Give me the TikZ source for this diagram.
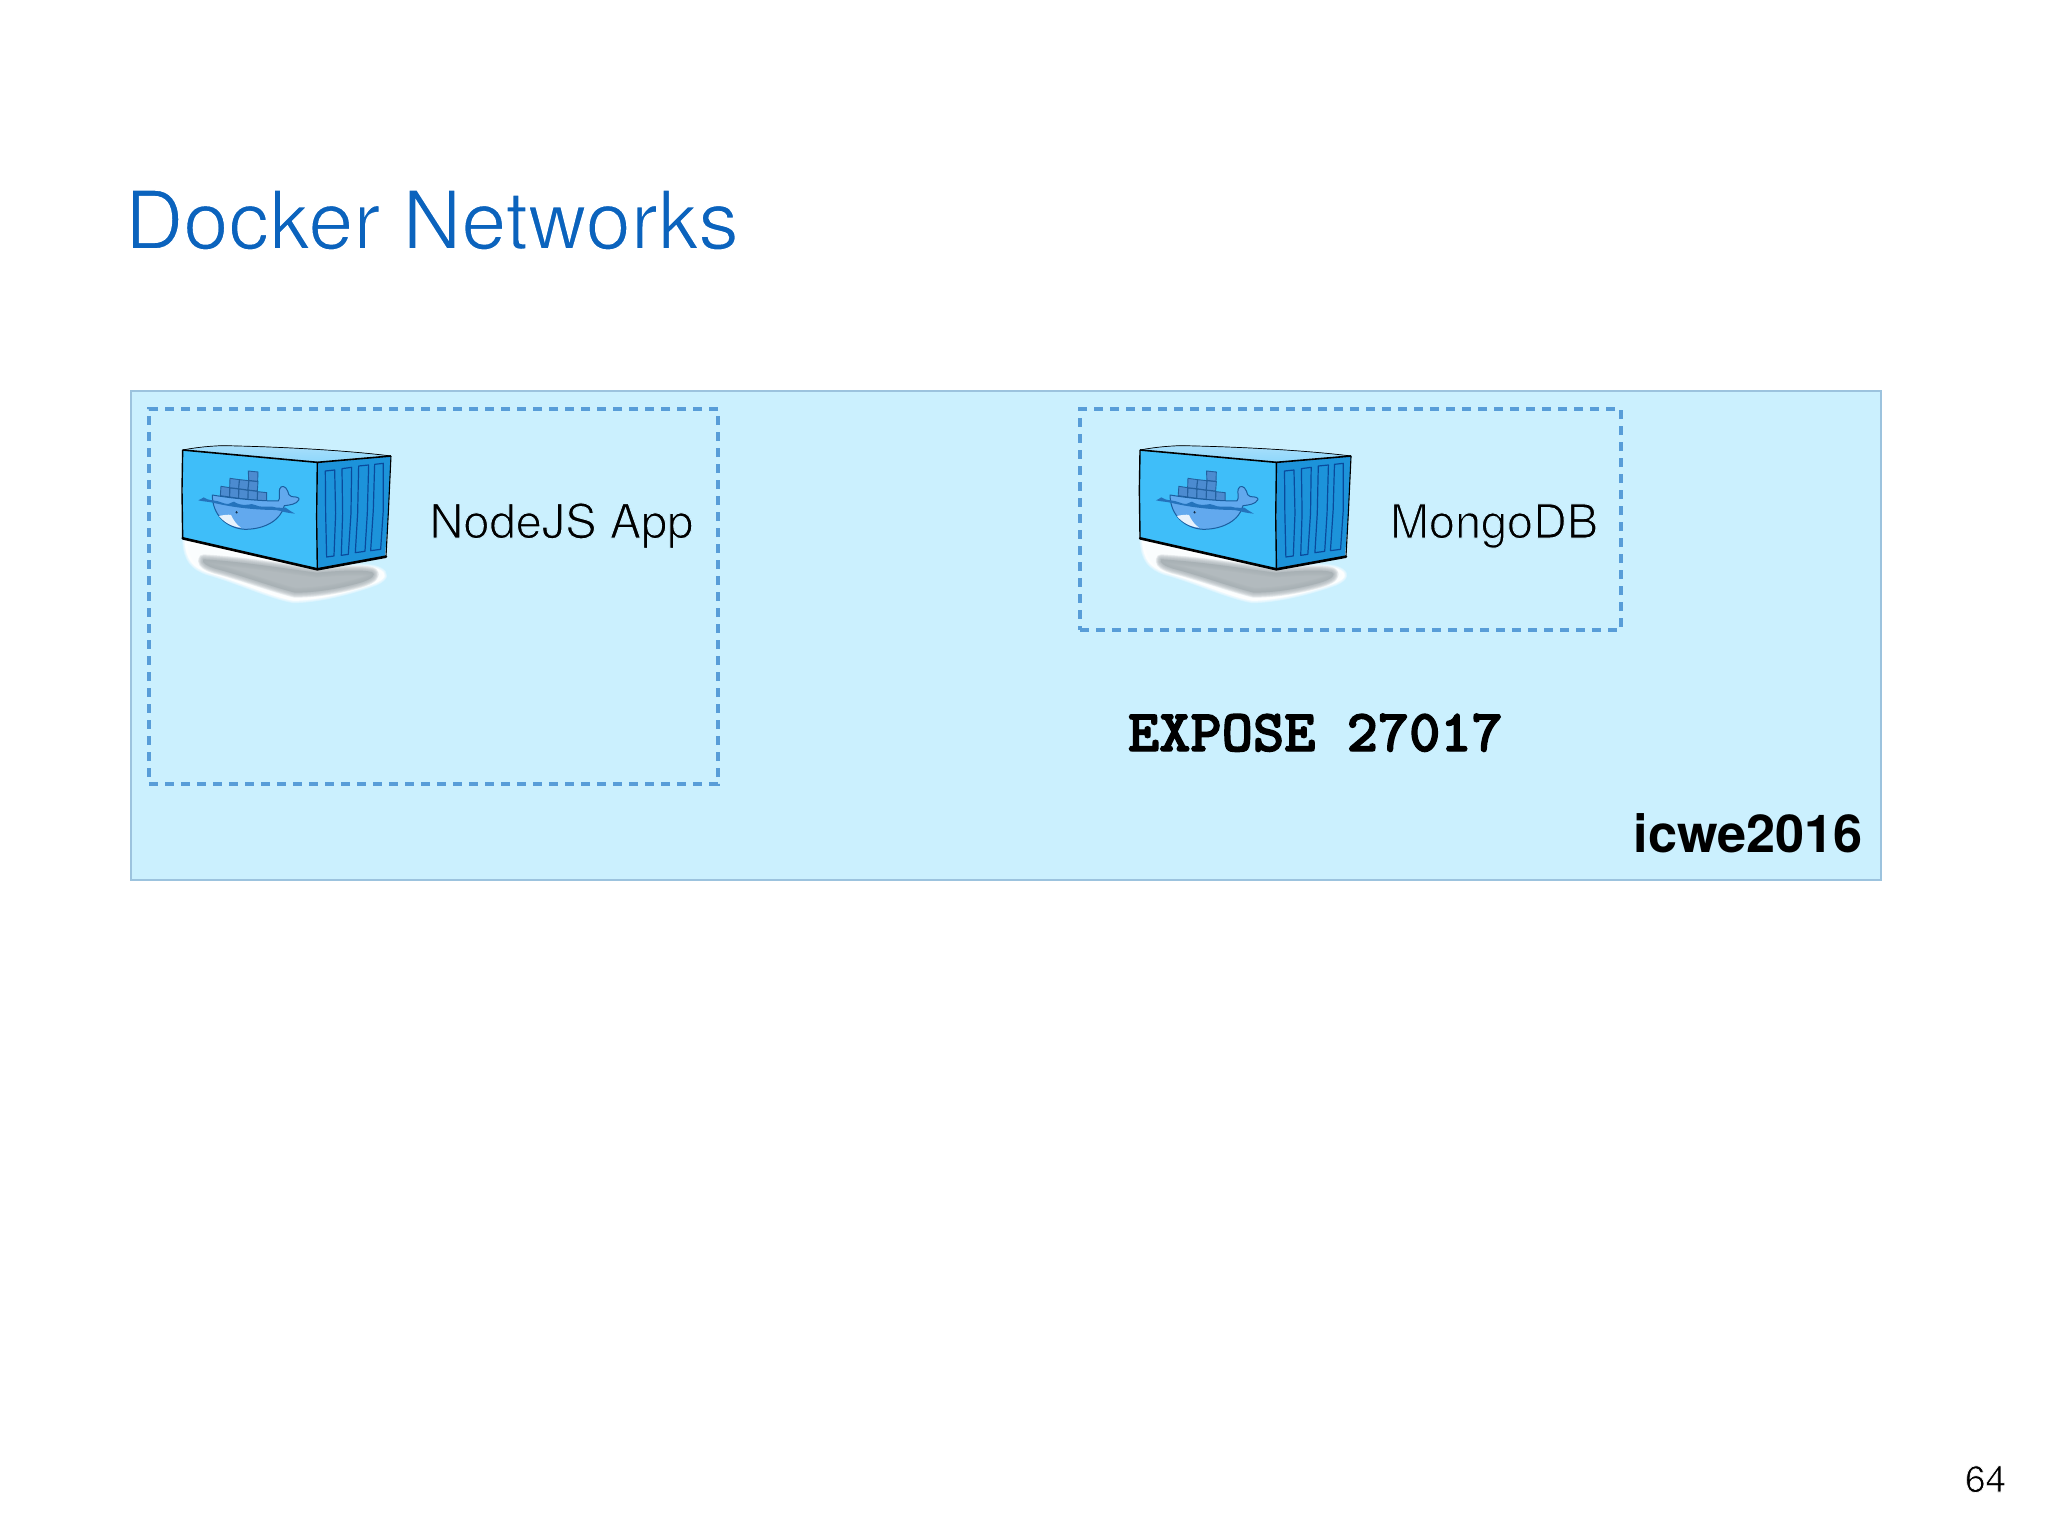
\documentclass[tikz,border=0pt]{standalone}
\usepackage{fontspec}
\setmainfont{TeX Gyre Heros}
\definecolor{titleblue}{HTML}{0B63BD}
\definecolor{panelfill}{HTML}{CBF0FE}
\definecolor{panelline}{HTML}{9CC3DE}
\definecolor{dashblue}{HTML}{589DD8}
\definecolor{frontblue}{HTML}{3FBEF9}
\definecolor{sideblue}{HTML}{1C93DA}
\definecolor{topblue}{HTML}{A8DFFB}
\definecolor{doorline}{HTML}{0A4A9C}
\definecolor{whaleblue}{HTML}{62A9EE}
\definecolor{whaleline}{HTML}{1B5E9F}
\definecolor{waterblue}{HTML}{2473BC}
\definecolor{boxblue}{HTML}{4C8BD0}
\definecolor{boxline}{HTML}{23609E}
\definecolor{shadowgrey}{HTML}{A6AFB3}
% text weight: the glyph edge is stroked in the ground colour (lighter) or in black (heavier)
\newcommand{\weighted}[3]{\special{pdf:code q #2 RG #3 w 2 Tr}#1\special{pdf:code Q}}
\newcommand{\onwhite}[1]{\weighted{#1}{1 1 1}{1.5}}
\newcommand{\onwhitesmall}[1]{\weighted{#1}{1 1 1}{0.7}}
\newcommand{\onpanel}[1]{\weighted{#1}{0.796 0.941 0.996}{1.0}}
\newcommand{\heavier}[1]{\weighted{#1}{0 0 0}{1.3}}
\def\shadowcore{(100,388) .. controls (220,395) and (340,415) .. (440,428) .. controls (510,422) and (575,418) .. (605,426)
        .. controls (622,434) and (605,448) .. (572,458) .. controls (510,476) and (440,488) .. (375,488)
        .. controls (310,472) and (220,438) .. (135,416) .. controls (115,410) and (92,398) .. (100,388) -- cycle}
\def\halo{(44,332) .. controls (200,362) and (350,400) .. (440,418)
      .. controls (520,410) and (590,402) .. (625,417) .. controls (654,430) and (648,445) .. (618,459)
      .. controls (540,488) and (440,512) .. (370,512) .. controls (300,500) and (200,452) .. (112,428)
      .. controls (68,412) and (48,390) .. (44,332) -- cycle}
\tikzset{
  label/.style={inner sep=0pt,outer sep=0pt,anchor=base west},
  panel/.style={draw=panelline,line width=1.8pt,fill=panelfill,inner sep=0pt,outer sep=0pt,anchor=north west},
  box/.style={draw=dashblue,line width=4.5pt,dash pattern=on 9pt off 7pt,inner sep=0pt,outer sep=0pt,anchor=north west},
  cargo/.style={fill=boxblue,draw=boxline,line width=.9pt},
  door/.style={fill=sideblue,draw=doorline,line width=1.2pt,line join=round},
  container/.pic={
    % shadow: white halo with a soft edge, then grey core with a soft edge
    \foreach \w in {5,3.5,2,.8}{
      \draw[white,line width=\w pt,opacity=.3,line join=round] \halo;
    }
    \fill[white,opacity=.92] \halo;
    \foreach \w in {10,8.5,7,5.5,4,2.5,1}{
      \draw[shadowgrey,line width=\w pt,opacity=.2,line join=round] \shadowcore;
    }
    \fill[shadowgrey,opacity=.85] \shadowcore;
    % top face
    \fill[top color=topblue,bottom color=topblue!75!frontblue] (38,60) .. controls (80,52) and (120,48) .. (160,47)
      .. controls (320,50) and (520,60) .. (663,78) -- (442,97) -- cycle;
    \draw[black,line width=.7pt] (38,60) .. controls (80,52) and (120,48) .. (160,47)
      .. controls (320,50) and (520,60) .. (663,78);
    % front face
    \fill[frontblue] (38,60) -- (442,97) -- (442,418) -- (38,325) -- cycle;
    % side face
    \fill[sideblue] (442,97) -- (663,78) -- (655,250) -- (645,380) -- (442,418) -- cycle;
    % doors
    \draw[door] (466,123) -- (494,120) -- (497,250) -- (492,378) -- (470,381) -- (467,250) -- cycle;
    \draw[door] (516,116) -- (545,112) -- (543,250) -- (535,373) -- (514,376) -- (518,250) -- cycle;
    \draw[door] (566,108) -- (596,105) -- (592,250) -- (585,364) -- (556,368) -- (563,250) -- cycle;
    \draw[door] (614,103) -- (640,100) -- (640,240) -- (632,358) -- (602,362) -- (610,240) -- cycle;
    % edges
    \draw[black,line width=1.6pt,line join=round] (38,60) -- (442,97) -- (663,78);
    \draw[black,line width=1.4pt] (38,60) -- (36,180) -- (38,325);
    \draw[black,line width=1.4pt] (442,97) -- (440,260) -- (442,418);
    \draw[black,line width=2.6pt,line cap=round,line join=round] (38,325) -- (442,418) -- (648,380);
    \draw[black,line width=1.1pt] (663,78) -- (655,250) -- (648,380);
    % cargo boxes
    \begin{scope}[shift={(75,105)}]
      \filldraw[cargo] (78,64) -- (104,68) -- (104,96) -- (76,92) -- cycle;
      \filldraw[cargo] (105,69) -- (131,72) -- (131,100) -- (104,96) -- cycle;
      \filldraw[cargo] (132,72) -- (159,76) -- (159,103) -- (131,100) -- cycle;
      \filldraw[cargo] (160,76) -- (187,79) -- (187,106) -- (159,103) -- cycle;
      \filldraw[cargo] (188,80) -- (215,83) -- (215,110) -- (187,106) -- cycle;
      \filldraw[cargo] (105,40) -- (133,44) -- (131,71) -- (104,68) -- cycle;
      \filldraw[cargo] (134,44) -- (161,47) -- (159,75) -- (131,71) -- cycle;
      \filldraw[cargo] (162,47) -- (189,50) -- (187,78) -- (159,75) -- cycle;
      \filldraw[cargo] (160,18) -- (189,21) -- (188,49) -- (161,46) -- cycle;
      % whale
      \filldraw[fill=whaleblue,draw=whaleline,line width=1pt,line join=round]
        (52,90) .. controls (110,100) and (190,108) .. (250,108)
        .. controls (258,100) and (250,80) .. (254,72) .. controls (258,60) and (272,62) .. (278,78)
        .. controls (282,88) and (280,92) .. (290,95) .. controls (305,95) and (314,98) .. (312,104)
        .. controls (305,118) and (285,120) .. (268,122) .. controls (258,165) and (210,193) .. (150,193)
        .. controls (95,190) and (52,150) .. (52,90) -- cycle;
      % belly
      \fill[white!85!whaleblue] (72,153) .. controls (85,150) and (100,148) .. (108,150)
        .. controls (115,165) and (125,180) .. (138,188) .. controls (110,185) and (88,172) .. (72,153) -- cycle;
      % water
      \fill[waterblue] (10,106) .. controls (18,104) and (22,98) .. (26,97) .. controls (32,102) and (42,105) .. (54,106)
        .. controls (75,108) and (88,118) .. (100,117) .. controls (108,116) and (110,110) .. (117,110)
        .. controls (125,116) and (140,122) .. (160,119) .. controls (168,116) and (172,117) .. (180,120)
        .. controls (195,128) and (215,124) .. (232,125) .. controls (245,130) and (270,128) .. (272,128)
        .. controls (280,135) and (290,140) .. (300,146) .. controls (280,144) and (270,142) .. (258,138)
        .. controls (240,133) and (225,136) .. (205,134) .. controls (160,132) and (110,126) .. (62,115)
        .. controls (45,110) and (25,110) .. (10,106) -- cycle;
      % eye
      \fill[whaleline!50!black] (125,142) circle (4);
      \fill[white] (127,141) circle (1.2);
    \end{scope}
  }
}
\begin{document}
\begin{tikzpicture}[x=1pt,y=-1pt]
  \useasboundingbox (0,0) rectangle (2048,1536);
  \fill[white] (0,0) rectangle (2048,1536);
  \node[label,text=titleblue,font=\fontsize{81}{90}\selectfont] (title) at (125,249) {\onwhite{Docker Networks}};
  \node[panel,minimum width=1750pt,minimum height=489pt] (net) at (131,391) {};
  \node[box,minimum width=569pt,minimum height=375pt] (app) at (149,409) {};
  \node[box,minimum width=541pt,minimum height=221pt] (db) at (1080,409) {};
  \begin{scope}[shift={(170,430)},x=.3333pt,y=-.3333pt]
    \pic {container};
  \end{scope}
  \begin{scope}[shift={(1127.2,430)},x=.3376pt,y=-.3333pt]
    \pic {container};
  \end{scope}
  \node[label,font=\fontsize{47}{50}\selectfont] (applabel) at (429.5,538) {\onpanel{NodeJS App}};
  \node[label,font=\fontsize{46.8}{50}\selectfont] (dblabel) at (1390,538) {\onpanel{MongoDB}};
  \node[label,font=\fontsize{59.5}{60}\selectfont\ttfamily\bfseries] (expose) at (1128,751) {\heavier{EXPOSE 27017}};
  \node[label,font=\fontsize{52.3}{55}\selectfont\bfseries,anchor=base east] (netlabel) at (1863,852) {icwe2016};
  \node[label,font=\fontsize{37}{40}\selectfont] (page) at (1965,1492) {\onwhitesmall{64}};
\end{tikzpicture}
\end{document}
